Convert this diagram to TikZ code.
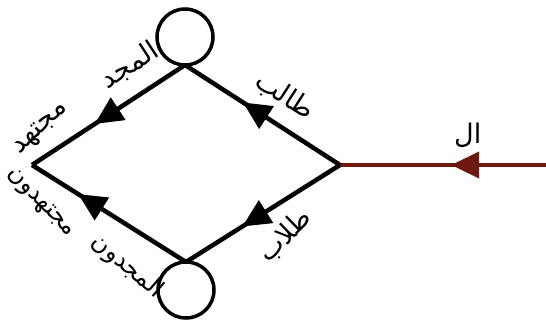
\documentclass[tikz,border=0pt]{standalone}
\usepackage{fontspec}
\usepackage{xcolor}
\usepackage{tikz}
\usetikzlibrary{arrows.meta, positioning, decorations.markings}
\newfontfamily\arabicfont[Script=Arabic]{DejaVu Sans}
\TeXXeTstate=1
\definecolor{inred}{RGB}{110, 25, 15}

\begin{document}
\begin{tikzpicture}[
    x=1pt, y=-1pt,
    state/.style={circle, draw=black, line width=3.5pt, fill=white, minimum size=56pt, inner sep=0pt, outer sep=0pt},
    edge/.style={line width=4.5pt, black, postaction={decorate}},
    tipat/.style={decoration={markings, mark=at position #1 with {\arrow{Triangle[length=28pt, width=26pt]}}}},
    lbl/.style={font=\arabicfont\fontsize{27}{27}\selectfont, text=black, inner sep=0pt, sloped},
    small/.style={font=\arabicfont\fontsize{24}{24}\selectfont}
]
    \useasboundingbox (0,0) rectangle (546,324);
    % Nodes
    \coordinate (in) at (546,165);
    \coordinate (right) at (340,165);
    \coordinate (top) at (185,65);
    \coordinate (bottom) at (186,262);
    \coordinate (left) at (32,165);
    \node[state, above=0pt of top] (topstate) {};
    \node[state, below=0pt of bottom] (bottomstate) {};

    % Paths
    \draw[edge, inred, tipat=0.46] (in) -- node[lbl, pos=0.38, yshift=30pt] {\beginR ال\endR} (right);
    \draw[edge, tipat=0.626] (right) -- node[lbl, pos=0.455, yshift=28pt] {\beginR طالب\endR} (top);
    \draw[edge, tipat=0.634] (right) -- node[lbl, pos=0.463, yshift=-31pt, rotate=12] {\beginR طلاب\endR} (bottom);
    \draw[edge, tipat=0.59] (top) -- node[lbl, pos=0.255, yshift=30pt] {\beginR المجد\endR}
        node[lbl, pos=0.85, yshift=25pt, rotate=10] {\beginR مجتهد\endR} (left);
    \draw[edge, tipat=0.70] (bottom) -- node[lbl, small, pos=0.26, yshift=-35pt, rotate=-8] {\beginR المجدون\endR}
        node[lbl, small, pos=0.85, yshift=-28pt, rotate=-14] {\beginR مجتهدون\endR} (left);
\end{tikzpicture}
\end{document}
